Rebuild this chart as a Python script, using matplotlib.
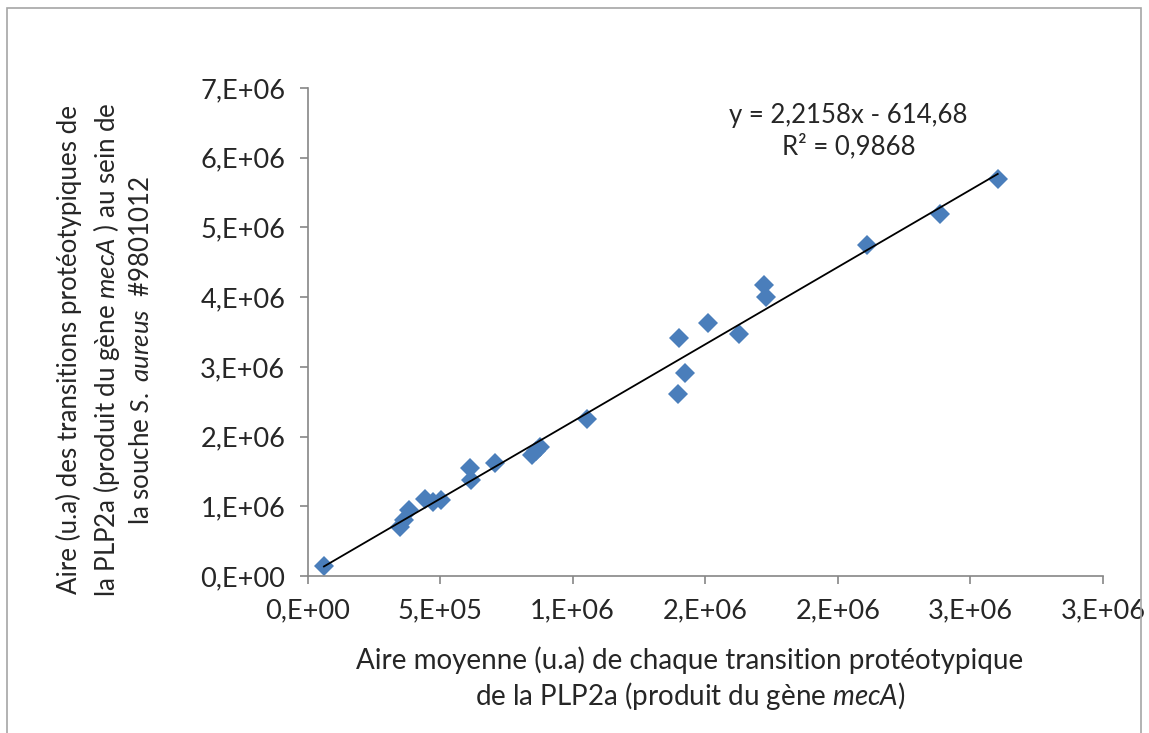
import matplotlib
matplotlib.use("Agg")
import matplotlib.pyplot as plt
from matplotlib.patches import Rectangle

plt.rcParams['font.family'] = ['Lato', 'DejaVu Sans']
plt.rcParams['mathtext.fontset'] = 'custom'
plt.rcParams['mathtext.rm'] = 'Lato'
plt.rcParams['mathtext.it'] = 'Lato:italic'

# aire moyenne (x) et aire dans la souche #9801012 (y)
aire_moy = [0.062e6, 0.349e6, 0.364e6, 0.383e6, 0.445e6, 0.472e6, 0.505e6,
            0.613e6, 0.616e6, 0.706e6, 0.847e6, 0.862e6, 0.876e6, 1.054e6,
            1.397e6, 1.401e6, 1.423e6, 1.510e6, 1.627e6, 1.722e6, 1.729e6,
            2.110e6, 2.385e6, 2.603e6]
aire_souche = [0.143e6, 0.70e6, 0.80e6, 0.94e6, 1.10e6, 1.06e6, 1.09e6,
               1.55e6, 1.38e6, 1.62e6, 1.74e6, 1.79e6, 1.85e6, 2.25e6,
               2.61e6, 3.41e6, 2.91e6, 3.63e6, 3.47e6, 4.17e6, 4.00e6,
               4.75e6, 5.19e6, 5.70e6]

# courbe de tendance (Excel)
pente = 2.2158
ordonnee = -614.68

x_ticks = [0, 0.5e6, 1.0e6, 1.5e6, 2.0e6, 2.5e6, 3.0e6]
x_labels = ["0,E+00", "5,E+05", "1,E+06", "2,E+06", "2,E+06", "3,E+06", "3,E+06"]
y_ticks = [0, 1e6, 2e6, 3e6, 4e6, 5e6, 6e6, 7e6]
y_labels = ["0,E+00", "1,E+06", "2,E+06", "3,E+06", "4,E+06", "5,E+06", "6,E+06", "7,E+06"]

W, H = 1149, 733
fig = plt.figure(figsize=(W / 100, H / 100), dpi=100)
ax = fig.add_axes([307.5 / W, 1 - 576 / H, (1103 - 307.5) / W, (576 - 88) / H])

# cadre du graphique
fig.patches.append(Rectangle((7 / W, -0.01), (1141 - 7) / W, 1.01 - 8 / H,
                             transform=fig.transFigure, fill=False,
                             edgecolor='#a6a6a6', linewidth=1.2))

ax.plot(aire_moy, aire_souche, linestyle='none', marker='D', markersize=10.5,
        color='#4a7ebb', markeredgewidth=0, zorder=2)

xt = [min(aire_moy), max(aire_moy)]
ax.plot(xt, [pente * v + ordonnee for v in xt], color='black', linewidth=1.3, zorder=3)

ax.set_xlim(0, 3.0e6)
ax.set_ylim(0, 7e6)
ax.set_xticks(x_ticks)
ax.set_xticklabels(x_labels)
ax.set_yticks(y_ticks)
ax.set_yticklabels(y_labels)

for s in ['top', 'right']:
    ax.spines[s].set_visible(False)
for s in ['left', 'bottom']:
    ax.spines[s].set_color('#868686')
    ax.spines[s].set_linewidth(1.2)
ax.tick_params(direction='out', length=6, width=1.2, color='#868686',
               labelsize=19.5, labelcolor='#262626', pad=10)

ax.text(0.68, 0.97, "y = 2,2158x - 614,68\nR² = 0,9868", transform=ax.transAxes,
        ha='center', va='top', fontsize=18.5, color='#262626', linespacing=1.3)

fig.text(690 / W, 1 - 679 / H,
         "Aire moyenne (u.a) de chaque transition protéotypique\n"
         r"de la PLP2a (produit du gène $\mathit{mecA}$)",
         ha='center', va='center', fontsize=20, color='#262626', linespacing=1.25)

fig.text(105 / W, 1 - 350 / H,
         "Aire (u.a) des transitions protéotypiques de\n"
         r"la PLP2a (produit du gène $\mathit{mecA}$ ) au sein de" "\n"
         r"la souche $\mathit{S.\ aureus}$  #9801012",
         ha='center', va='center', rotation=90, fontsize=18.6, color='#262626',
         linespacing=1.35, multialignment='center')

fig.savefig("out.png", dpi=100)
